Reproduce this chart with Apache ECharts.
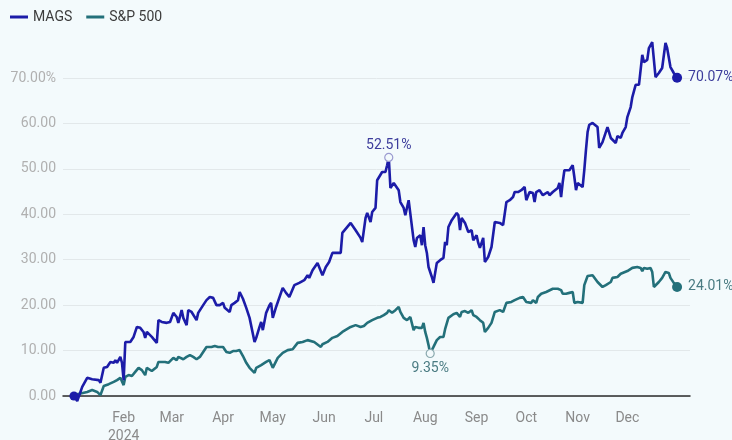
<!DOCTYPE html>
<html>
<head>
<meta charset="utf-8">
<script src="https://cdn.jsdelivr.net/npm/echarts@6/dist/echarts.min.js"></script>
<style>
html,body{margin:0;padding:0;background:#f3fafc;}
#chart{width:732px;height:440px;}
</style>
</head>
<body>
<div id="chart"></div>
<script>
// Day offsets from 2024-01-01 (UTC) and cumulative returns (%)
const magsDays = [1,3,6,9,12,16,17,19,21,22,23,25,26,27,29,30,31,32,35,37,39,41,43,44,45,48,51,52,54,57,59,61,63,64,66,67,69,70,72,75,76,79,81,83,85,87,89,91,92,93,95,96,98,100,101,103,105,107,110,111,113,114,115,117,119,120,121,123,127,129,131,134,137,140,142,143,145,148,151,153,155,157,162,163,168,171,174,175,177,178,180,181,183,184,187,189,190,191,192,194,195,197,198,200,201,203,204,206,207,208,210,211,212,213,214,215,217,218,219,220,222,224,225,226,227,229,232,233,234,235,237,239,241,242,244,245,246,248,249,251,253,255,256,258,260,262,264,266,267,269,271,273,274,276,278,279,280,282,284,287,288,290,293,294,295,296,297,300,302,303,304,305,306,308,309,310,311,312,314,317,318,320,323,325,326,328,329,331,332,334,335,337,338,340,341,342,344,345,347,348,350,352,354,356,358,359,361,363,365];
const magsVals = [0,-1.1,2.0,4.0,3.7,3.5,2.9,6.2,6.4,6.2,7.5,7.3,7.9,7.3,8.6,7.3,3.5,11.9,11.9,13.0,15.2,15.0,14.1,12.8,14.1,13.0,11.7,16.7,16.3,16.1,16.3,18.3,17.4,16.1,18.9,17.2,15.6,18.9,18.5,16.7,18.3,20.0,21.1,21.8,21.6,20.0,20.0,20.5,19.4,19.8,18.5,20.0,20.5,21.1,22.9,21.4,19.4,17.2,11.9,12.8,15.2,16.3,14.5,18.3,20.0,20.5,17.2,19.6,23.8,22.7,21.8,24.4,24.9,25.5,26.6,26.0,27.7,29.3,26.6,28.4,29.5,31.5,31.5,35.9,38.1,36.5,34.8,33.9,39.2,40.3,38.3,40.5,41.4,47.5,49.3,49.3,50.8,52.51,45.8,46.9,46.9,45.3,42.7,41.4,39.8,43.1,42.7,34.3,32.8,34.8,35.4,33.2,37.2,33.2,31.5,28.4,26.2,24.9,27.1,29.3,29.9,30.4,33.9,33.2,37.2,38.7,40.3,39.8,36.5,39.2,38.1,36.1,36.5,34.3,35.4,33.7,32.6,34.8,29.5,30.6,32.8,38.3,38.7,38.1,37.6,42.7,43.1,43.8,44.9,44.9,45.3,46.0,43.1,44.9,44.7,42.7,44.9,45.3,44.2,44.9,44.2,44.9,45.8,46.9,43.8,47.1,49.7,49.7,50.8,48.2,45.3,46.9,46.9,46.0,49.7,54.1,58.1,59.7,60.1,59.2,54.6,55.9,59.2,56.8,56.4,55.7,57.2,56.8,57.9,59.2,61.4,63.6,65.8,68.5,68.2,68.5,75.1,73.5,74.0,76.6,77.9,70.2,71.1,72.2,77.7,76.6,72.4,71.1,70.07];

const spxDays = [1,3,9,12,15,17,19,22,25,27,29,31,32,34,36,38,40,42,44,45,48,51,52,56,58,61,63,64,67,69,71,73,75,77,79,81,84,86,88,91,93,95,97,99,101,103,105,107,110,111,114,115,117,119,121,124,127,130,133,136,139,142,143,146,150,151,154,157,160,163,168,171,174,176,178,181,184,186,188,190,191,193,195,197,198,200,202,204,206,207,209,211,212,213,214,215,216,218,220,222,224,225,227,230,232,233,234,235,237,239,241,242,244,246,248,249,251,253,255,258,260,262,265,267,270,272,274,275,277,278,280,281,283,286,287,290,291,293,295,296,298,300,302,303,305,306,308,309,311,314,315,317,320,322,325,326,329,331,332,335,338,341,343,344,345,347,349,350,351,354,356,358,360,361,363,365];
const spxVals = [0,0.4,0.9,1.3,0.9,0.2,2.2,2.6,3.1,3.5,4.0,2.4,4.2,4.6,4.4,5.3,6.2,5.7,4.6,6.2,5.5,6.4,7.5,7.5,7.3,8.4,7.9,8.6,8.1,8.6,9.0,8.6,8.1,8.6,9.7,10.8,10.8,11.0,10.8,10.8,9.7,9.5,9.9,9.9,10.1,8.8,7.3,6.2,5.1,6.2,6.8,6.4,7.5,7.9,6.2,8.4,9.5,10.1,10.3,11.7,11.9,12.3,11.9,11.9,10.8,11.4,11.9,12.8,13.2,14.1,15.2,15.6,15.2,15.4,16.1,16.7,17.2,17.4,17.8,18.3,18.9,18.3,18.9,19.6,18.5,17.2,16.7,17.4,14.5,15.2,15.0,15.0,16.1,14.1,12.8,11.2,9.35,10.8,12.3,13.0,13.0,14.7,17.2,18.0,18.3,18.5,17.4,18.5,18.7,18.3,18.9,17.8,17.4,16.7,16.1,14.1,15.0,16.1,18.5,18.9,18.5,20.5,20.7,21.1,21.6,21.8,20.7,21.1,20.5,21.1,20.5,21.8,22.5,22.9,23.3,23.6,23.8,23.6,23.3,22.5,22.5,22.7,22.9,20.5,20.7,20.7,20.5,24.4,26.4,26.6,26.2,25.1,24.0,24.4,25.1,26.0,26.2,26.9,26.6,27.5,28.2,28.4,28.2,27.5,28.2,28.0,28.2,27.3,24.0,25.1,26.0,27.3,27.1,26.0,24.9,24.01];

const seriesNames = ['MAGS', 'S&P 500'];
const monthLabels = ['Feb','Mar','Apr','May','Jun','Jul','Aug','Sep','Oct','Nov','Dec'];
const yearLabel = '2024';
const yTicks = [0,10,20,30,40,50,60,70];
const magsPeak = 52.51;   // annotated high
const spxLow = 9.35;      // annotated low

const DAY = 86400000;
const BASE = Date.UTC(2024, 0, 1);
const toTs = d => BASE + d * DAY;
const monthStarts = monthLabels.map((m, i) => Date.UTC(2024, i + 1, 1));

const C_MAGS = '#1c1ca8';
const C_SPX = '#23707a';
const BG = '#f3fafc';
const FONT = 'Roboto';

function build(days, vals, color, labelColor, markVal, markPos, markDist, markColor, startDot) {
  const last = vals.length - 1;
  return days.map((d, i) => {
    const item = { value: [toTs(d), vals[i]] };
    if (i === last) {
      item.symbol = 'circle';
      item.symbolSize = 10;
      item.itemStyle = { color: color, borderWidth: 0 };
      item.label = { show: true, position: 'right', distance: 6, color: labelColor, fontSize: 14,
        fontFamily: FONT, formatter: p => p.value[1].toFixed(2) + '%' };
    } else if (i === 0 && startDot) {
      item.symbol = 'circle';
      item.symbolSize = 9;
      item.itemStyle = { color: color, borderWidth: 0 };
    } else if (vals[i] === markVal) {
      item.symbol = 'circle';
      item.symbolSize = 8;
      item.itemStyle = { color: BG, borderColor: markColor, borderWidth: 1.2 };
      item.label = { show: true, position: markPos, distance: markDist, color: labelColor, fontSize: 14,
        fontFamily: FONT, formatter: p => p.value[1].toFixed(2) + '%' };
    }
    return item;
  });
}

const chart = echarts.init(document.getElementById('chart'), null, { renderer: 'canvas' });
chart.setOption({
  backgroundColor: BG,
  animation: false,
  textStyle: { fontFamily: FONT },
  legend: {
    left: 5, top: 5,
    icon: 'rect',
    itemWidth: 18, itemHeight: 3, itemGap: 14,
    textStyle: { color: '#3c3c3c', fontSize: 14, fontFamily: FONT },
    data: seriesNames
  },
  grid: { left: 63, right: 42, top: 78, bottom: 44, outerBoundsMode: 'none', containLabel: false },
  xAxis: {
    type: 'value',
    min: toTs(-5.6),
    max: toTs(372.8),
    axisLine: { lineStyle: { color: '#2b2b2b', width: 1.5 } },
    axisTick: { show: false },
    splitLine: { show: false },
    axisLabel: {
      customValues: monthStarts,
      color: '#8a8a8a', fontSize: 14, fontFamily: FONT, margin: 13, lineHeight: 18,
      formatter: v => {
        const m = new Date(v).getUTCMonth();
        const name = monthLabels[m - 1] || '';
        return m === 1 ? name + '\n' + yearLabel : name;
      }
    }
  },
  yAxis: {
    type: 'value',
    min: yTicks[0], max: yTicks[yTicks.length - 1], interval: 10,
    axisLine: { show: false },
    axisTick: { show: false },
    splitLine: { lineStyle: { color: '#e2e8ea', width: 1 } },
    axisLabel: {
      color: '#b0b0b0', fontSize: 14, fontFamily: FONT, margin: 7,
      formatter: v => v === yTicks[yTicks.length - 1] ? v.toFixed(2) + '%' : v.toFixed(2)
    }
  },
  series: [
    {
      name: seriesNames[1], type: 'line', clip: false,
      symbol: 'none', showSymbol: true,
      lineStyle: { color: C_SPX, width: 2.6 }, itemStyle: { color: C_SPX },
      data: build(spxDays, spxVals, C_SPX, '#4a7b82', spxLow, 'bottom', 3, '#8aa9ae', false),
      z: 2
    },
    {
      name: seriesNames[0], type: 'line', clip: false,
      symbol: 'none', showSymbol: true,
      lineStyle: { color: C_MAGS, width: 2.6 }, itemStyle: { color: C_MAGS },
      data: build(magsDays, magsVals, C_MAGS, '#3d3d9c', magsPeak, 'top', 0, '#9a9ad0', true),
      z: 3
    }
  ]
});
</script>
</body>
</html>
